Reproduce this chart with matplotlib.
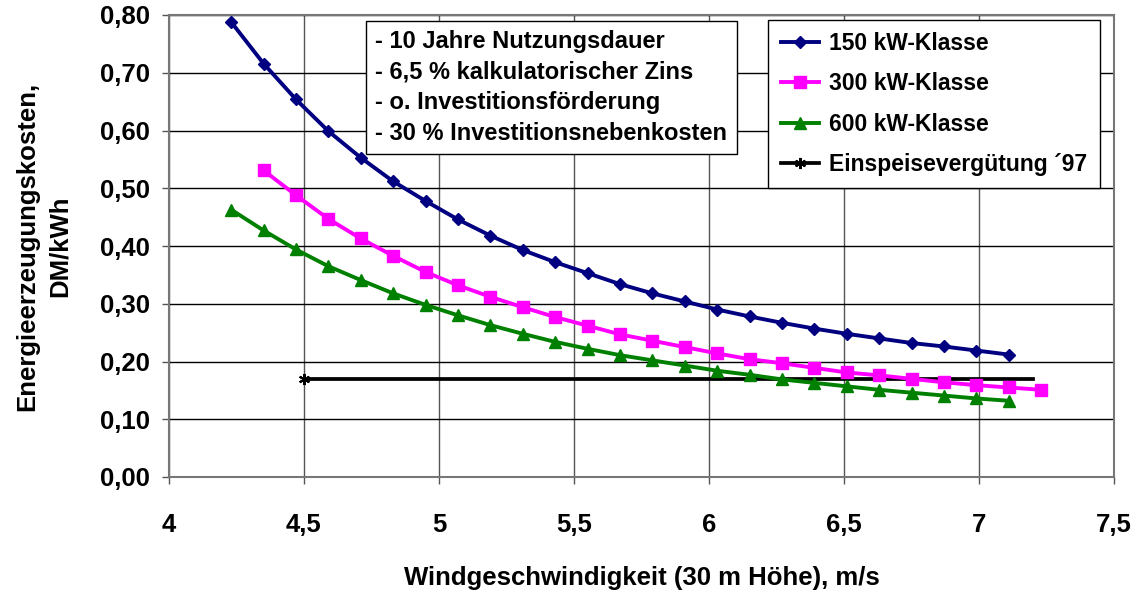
import matplotlib.pyplot as plt
from matplotlib.ticker import FuncFormatter

# Windgeschwindigkeit (30 m Höhe), m/s
wind_150 = [4.23, 4.35, 4.47, 4.59, 4.71, 4.83, 4.95, 5.07, 5.19, 5.31, 5.43, 5.55, 5.67,
            5.79, 5.91, 6.03, 6.15, 6.27, 6.39, 6.51, 6.63, 6.75, 6.87, 6.99, 7.11]
wind_300 = [4.35, 4.47, 4.59, 4.71, 4.83, 4.95, 5.07, 5.19, 5.31, 5.43, 5.55, 5.67, 5.79,
            5.91, 6.03, 6.15, 6.27, 6.39, 6.51, 6.63, 6.75, 6.87, 6.99, 7.11, 7.23]
wind_600 = wind_150

# Energieerzeugungskosten DM/kWh
kosten_150 = [0.788, 0.716, 0.654, 0.599, 0.553, 0.512, 0.478, 0.446, 0.418, 0.393, 0.372, 0.353, 0.334,
              0.318, 0.304, 0.290, 0.278, 0.267, 0.257, 0.248, 0.240, 0.232, 0.226, 0.219, 0.212]
kosten_300 = [0.531, 0.488, 0.447, 0.413, 0.383, 0.355, 0.332, 0.312, 0.294, 0.277, 0.262, 0.247, 0.236,
              0.225, 0.214, 0.204, 0.197, 0.189, 0.181, 0.176, 0.170, 0.164, 0.159, 0.155, 0.151]
kosten_600 = [0.463, 0.427, 0.394, 0.365, 0.341, 0.318, 0.298, 0.280, 0.263, 0.248, 0.234, 0.222, 0.211,
              0.202, 0.193, 0.184, 0.177, 0.169, 0.163, 0.157, 0.151, 0.146, 0.141, 0.136, 0.132]

# Einspeisevergütung 1997
einspeisung_x = [4.5, 7.2]
einspeisung_y = [0.17, 0.17]

annahmen = ['- 10 Jahre Nutzungsdauer',
            '- 6,5 % kalkulatorischer Zins',
            '- o. Investitionsförderung',
            '- 30 % Investitionsnebenkosten']

plt.rcParams['font.family'] = ['Liberation Sans', 'DejaVu Sans']
plt.rcParams['font.weight'] = 'bold'

fig = plt.figure(figsize=(11.41, 5.96), dpi=100)
ax = fig.add_axes([169 / 1141, 1 - 477 / 596, (1114 - 169) / 1141, (477 - 15) / 596])

ax.plot(wind_150, kosten_150, color='#000080', lw=2.8, marker='D', ms=6.5, label='150 kW-Klasse', zorder=3)
ax.plot(wind_300, kosten_300, color='#FF00FF', lw=2.8, marker='s', ms=8, label='300 kW-Klasse', zorder=3)
ax.plot(wind_600, kosten_600, color='#008000', lw=2.8, marker='^', ms=8, label='600 kW-Klasse', zorder=3)
ax.plot(einspeisung_x, einspeisung_y, color='black', lw=2.7, marker=(6, 2, 0), ms=8, mew=1.5,
        markevery=[0], label='Einspeisevergütung ´97', zorder=2.5)

ax.set_xlim(4, 7.5)
ax.set_ylim(0, 0.8)
ax.set_xticks([4, 4.5, 5, 5.5, 6, 6.5, 7, 7.5])
ax.set_yticks([0, 0.1, 0.2, 0.3, 0.4, 0.5, 0.6, 0.7, 0.8])
ax.xaxis.set_major_formatter(FuncFormatter(lambda v, p: ('%g' % v).replace('.', ',')))
ax.yaxis.set_major_formatter(FuncFormatter(lambda v, p: ('%.2f' % v).replace('.', ',')))
ax.tick_params(labelsize=18.5, length=5, width=1, color='#555555')
ax.tick_params(axis='x', pad=21)
ax.tick_params(axis='y', pad=9)
for lab in ax.get_xticklabels() + ax.get_yticklabels():
    lab.set_fontweight('bold')

ax.grid(True, axis='y', color='black', lw=1)
ax.grid(True, axis='x', color='#555555', lw=1)
ax.set_axisbelow(True)
for s in ax.spines.values():
    s.set_color('#777777')
    s.set_linewidth(1.5)

ax.set_xlabel('Windgeschwindigkeit (30 m Höhe), m/s', fontsize=18.5, fontweight='bold', labelpad=21)
ax.set_ylabel('Energieerzeugungskosten,\nDM/kWh', fontsize=18.5, fontweight='bold', labelpad=20,
              linespacing=1.45)

ax.text(0.2185, 0.967, '\n'.join(annahmen), transform=ax.transAxes, va='top', ha='left',
        fontsize=17, fontweight='bold', linespacing=1.42,
        bbox=dict(boxstyle='square,pad=0.4', fc='white', ec='black', lw=1))

leg = ax.legend(loc='upper right', bbox_to_anchor=(0.985, 0.99), fontsize=16.5, handlelength=1.65,
                handletextpad=0.45, labelspacing=0.75, fancybox=False, framealpha=1,
                edgecolor='black', borderpad=0.55, borderaxespad=0)
leg.get_frame().set_linewidth(1)
for t in leg.get_texts():
    t.set_fontweight('bold')

fig.savefig('out.png', dpi=100)
